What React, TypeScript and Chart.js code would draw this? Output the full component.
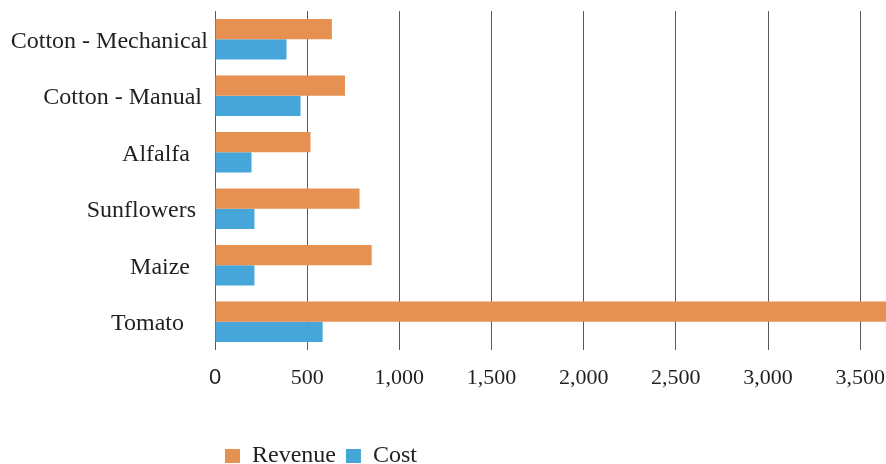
import { useEffect, useRef } from 'react';
import { Chart, registerables } from 'chart.js';

Chart.register(...registerables);

// Categories (trailing spaces reproduce the original label placement)
const categories = [
  'Cotton - Mechanical',
  'Cotton - Manual ',
  'Alfalfa   ',
  'Sunflowers  ',
  'Maize   ',
  'Tomato    ',
];
const revenue = [634, 705, 518, 784, 850, 3650];
const cost = [388, 464, 198, 214, 214, 584];

const xMin = 0;
const xMax = 3640;
const xTickValues = [0, 500, 1000, 1500, 2000, 2500, 3000, 3500];

const seriesNames = ['Revenue', 'Cost'];
const seriesColors = ['#E69152', '#47A6D9'];

const textColor = '#231f20';
const serif = "'Liberation Serif', 'Times New Roman', serif";
const sans = "'Liberation Sans', Arial, sans-serif";

const legendPlacement = {
  id: 'legendPlacement',
  afterLayout(chart: any) {
    const lg = chart.legend;
    if (!lg) return;
    const dx = chart.chartArea.left - lg.left;
    lg.left += dx;
    lg.right += dx;
    const dy = 14;
    lg.top += dy;
    lg.bottom += dy;
  },
};

export default function App() {
  const ref = useRef<HTMLCanvasElement>(null);

  useEffect(() => {
    const chart = new Chart(ref.current as HTMLCanvasElement, {
      type: 'bar',
      data: {
        labels: categories,
        datasets: [
          {
            label: seriesNames[0],
            data: revenue,
            backgroundColor: seriesColors[0],
            borderWidth: 0,
          },
          {
            label: seriesNames[1],
            data: cost,
            backgroundColor: seriesColors[1],
            borderWidth: 0,
          },
        ],
      },
      options: {
        indexAxis: 'y',
        animation: false,
        responsive: true,
        maintainAspectRatio: false,
        datasets: {
          bar: {
            categoryPercentage: 0.72,
            barPercentage: 1,
          },
        },
        layout: { padding: { top: 11, right: 0, left: 0, bottom: 0 } },
        scales: {
          x: {
            type: 'linear',
            min: xMin,
            max: xMax,
            grid: {
              color: '#5a5a5a',
              lineWidth: 1,
              drawTicks: false,
            },
            border: { display: false },
            afterBuildTicks: (scale: any) => {
              scale.ticks = xTickValues.map((v) => ({ value: v }));
            },
            ticks: {
              padding: 15,
              color: textColor,
              font: (ctx: any) =>
                ctx.tick && ctx.tick.value === 0
                  ? { family: sans, size: 22 }
                  : { family: serif, size: 22 },
              callback: (v: any) => Number(v).toLocaleString('en-US'),
            },
            afterFit: (scale: any) => {
              scale.height = 70;
              scale.paddingLeft = 0;
              scale.paddingRight = 0;
            },
          },
          y: {
            grid: { display: false, drawTicks: false },
            border: { display: false },
            ticks: {
              padding: 7,
              labelOffset: 2,
              color: textColor,
              font: { family: serif, size: 24 },
            },
            afterFit: (scale: any) => {
              scale.width = 215;
              scale.paddingTop = 0;
              scale.paddingBottom = 0;
            },
          },
        },
        plugins: {
          legend: {
            position: 'bottom',
            align: 'start',
            labels: {
              boxWidth: 15,
              boxHeight: 14,
              padding: 10,
              color: textColor,
              font: { family: serif, size: 24 },
            },
          },
          tooltip: { enabled: false },
        },
      },
      plugins: [legendPlacement],
    });
    return () => chart.destroy();
  }, []);

  return (
    <div style={{ position: 'absolute', left: 0, top: 0, width: 886, height: 464 }}>
      <canvas ref={ref} />
    </div>
  );
}
